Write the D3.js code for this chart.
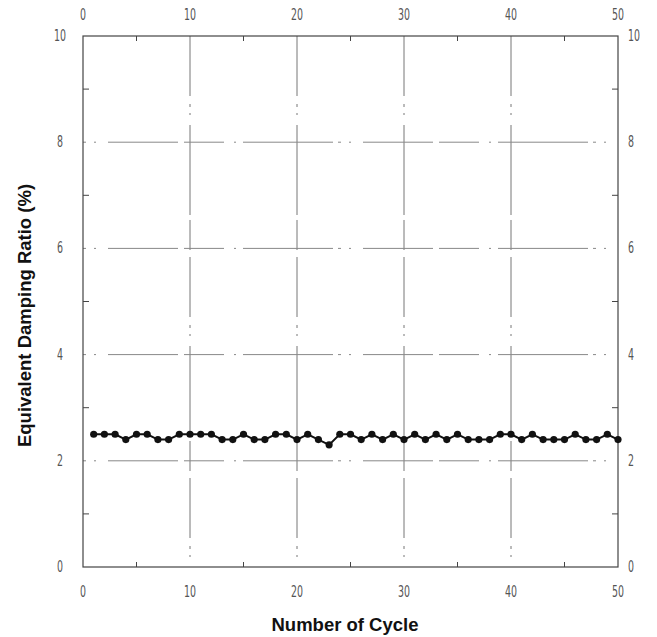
<!DOCTYPE html>
<html><head><meta charset="utf-8">
<script src="https://cdn.jsdelivr.net/npm/d3@7"></script>
<style>
body{margin:0;background:#fff;}
.tl{font-family:"Liberation Sans Narrow","DejaVu Sans Condensed","Liberation Sans",sans-serif;font-size:15px;fill:#555;}
.title{font-family:"Liberation Sans",Arial,sans-serif;font-weight:bold;font-size:18.5px;fill:#111;}
</style></head>
<body><svg id="c" width="657" height="637"></svg>
<script>
const cycles = d3.range(1, 51);
const damping = [2.5,2.5,2.5,2.4,2.5,2.5,2.4,2.4,2.5,2.5,
                 2.5,2.5,2.4,2.4,2.5,2.4,2.4,2.5,2.5,2.4,
                 2.5,2.4,2.3,2.5,2.5,2.4,2.5,2.4,2.5,2.4,
                 2.5,2.4,2.5,2.4,2.5,2.4,2.4,2.4,2.5,2.5,
                 2.4,2.5,2.4,2.4,2.4,2.5,2.4,2.4,2.5,2.4];
const xTicks = [0,10,20,30,40,50];
const yTicks = [0,2,4,6,8,10];
const xMinor = [5,15,25,35,45];
const yMinor = [1,3,5,7,9];

const svg = d3.select("#c");
const L=83, R=618, T=36, B=567;
const x = d3.scaleLinear().domain([0,50]).range([L,R]);
const y = d3.scaleLinear().domain([0,10]).range([B,T]);

// grid
const g = svg.append("g");
g.selectAll(".gx").data(xTicks.slice(1,-1)).join("line")
  .attr("x1",d=>x(d)).attr("x2",d=>x(d)).attr("y1",T).attr("y2",B)
  .attr("stroke","#777").attr("stroke-width",1)
  .attr("stroke-dasharray","60,8,3,6,2,10,90,5,30,7");
g.selectAll(".gy").data(yTicks.slice(1,-1)).join("line")
  .attr("y1",d=>y(d)).attr("y2",d=>y(d)).attr("x1",L).attr("x2",R)
  .attr("stroke","#888").attr("stroke-width",1)
  .attr("stroke-dasharray","3,8,2,12,70,6,40,10,2,7,90,5");

// frame
svg.append("rect").attr("x",L).attr("y",T).attr("width",R-L).attr("height",B-T)
  .attr("fill","none").attr("stroke","#444").attr("stroke-width",1.2);

// minor ticks
const tk = svg.append("g").attr("stroke","#444").attr("stroke-width",1);
xMinor.forEach(v=>{
  tk.append("line").attr("x1",x(v)).attr("x2",x(v)).attr("y1",T).attr("y2",T+5);
  tk.append("line").attr("x1",x(v)).attr("x2",x(v)).attr("y1",B).attr("y2",B-5);
});
yMinor.forEach(v=>{
  tk.append("line").attr("y1",y(v)).attr("y2",y(v)).attr("x1",L).attr("x2",L+6);
  tk.append("line").attr("y1",y(v)).attr("y2",y(v)).attr("x1",R).attr("x2",R-6);
});

// tick labels (narrow)
const lab = svg.append("g");
function tl(px,py,anchor,t){
  lab.append("text").attr("class","tl")
    .attr("transform","translate("+px+","+py+") scale(0.7,1.05)")
    .attr("text-anchor",anchor).text(t);
}
xTicks.forEach(v=>{ tl(x(v),20,"middle",v); tl(x(v),597,"middle",v); });
yTicks.forEach(v=>{ tl(60,y(v)+5,"middle",v); tl(628,y(v)+5,"start",v); });

// data
const pts = cycles.map((c,i)=>[c,damping[i]]);
svg.append("path").datum(pts)
  .attr("d",d3.line().x(d=>x(d[0])).y(d=>y(d[1])))
  .attr("fill","none").attr("stroke","#111").attr("stroke-width",2);
svg.append("g").selectAll("circle").data(pts).join("circle")
  .attr("cx",d=>x(d[0])).attr("cy",d=>y(d[1])).attr("r",3.6).attr("fill","#111");

// titles
svg.append("text").attr("class","title").attr("x",345).attr("y",631)
  .attr("text-anchor","middle").text("Number of Cycle");
svg.append("text").attr("class","title")
  .attr("transform","translate(31,"+((T+B)/2+14)+") rotate(-90)")
  .attr("text-anchor","middle").text("Equivalent Damping Ratio (%)");
</script></body></html>
